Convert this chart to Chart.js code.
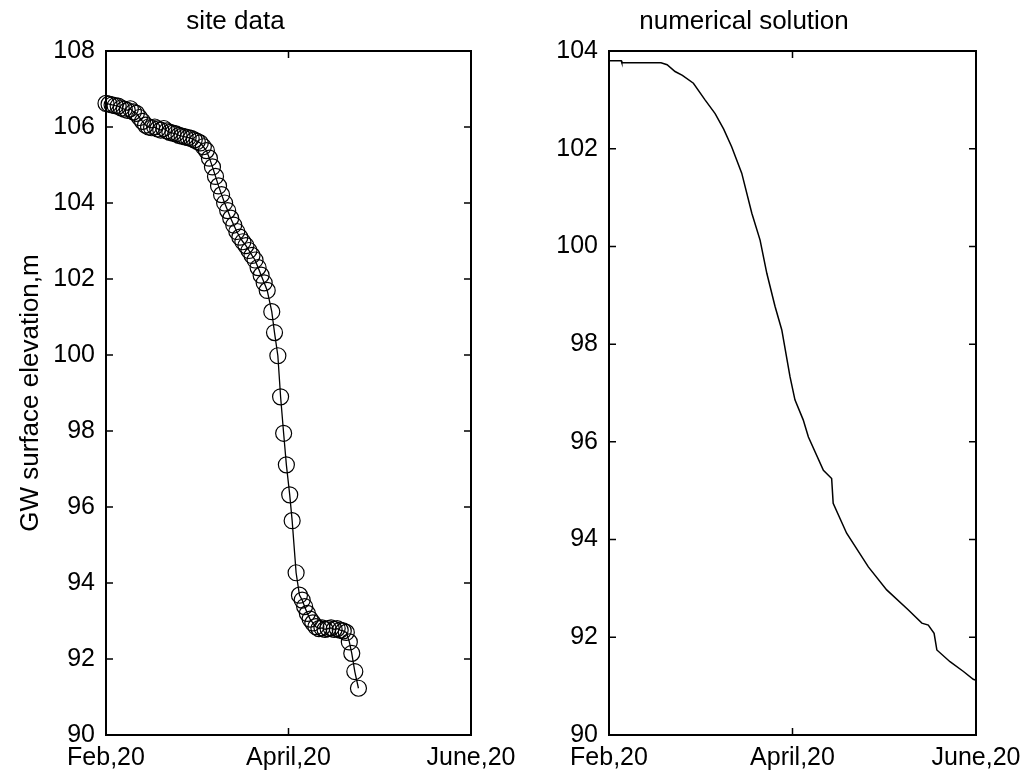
<!DOCTYPE html>
<html>
<head>
<meta charset="utf-8">
<script src="https://cdn.jsdelivr.net/npm/chart.js@4"></script>
<style>
  body { margin: 0; background: #fff; }
  #wrap { position: relative; width: 1025px; height: 774px; background: #fff; }
  #siteBox { position: absolute; left: 0; top: 0; width: 545px; height: 774px; z-index: 2; }
  #modelBox { position: absolute; left: 512px; top: 0; width: 513px; height: 774px; z-index: 1; }
</style>
</head>
<body>
<div id="wrap">
  <div id="siteBox"><canvas id="siteChart"></canvas></div>
  <div id="modelBox"><canvas id="modelChart"></canvas></div>
</div>
<script>
// x = days after Feb 20
const xTickValues = [0, 60, 120];
const xTickLabels = ["Feb,20", "April,20", "June,20"];

// site data (measured)
const siteDays = [
    0, 1, 2, 3, 4, 5, 6, 7, 8, 9, 10, 11, 12, 13, 14, 15, 16, 17, 18, 19,
    20, 21, 22, 23, 24, 25, 26, 27, 28, 29, 30, 31, 32, 33, 34, 35, 36, 37, 38, 39,
    40, 41, 42, 43, 44, 45, 46, 47, 48, 49, 50, 51, 52, 53,
    54.5, 55.4, 56.5, 57.4, 58.4, 59.3, 60.4, 61.2, 62.5, 63.6,
    64.5, 65.3, 66.2, 67.1, 68, 69, 70, 71, 72, 73, 74, 75, 76, 77, 78, 79,
    80, 80.8, 81.8, 83
];
const siteLevels = [
    106.62, 106.60, 106.58, 106.56, 106.55, 106.50, 106.47, 106.44, 106.48, 106.40,
    106.36, 106.25, 106.15, 106.05, 106.00, 105.98, 106.00, 105.95, 105.92, 105.96,
    105.90, 105.86, 105.84, 105.82, 105.78, 105.76, 105.74, 105.72, 105.70, 105.66,
    105.62, 105.58, 105.48, 105.38, 105.18, 104.95, 104.70, 104.45, 104.22, 104.00,
    103.80, 103.60, 103.42, 103.25, 103.10, 102.98, 102.88, 102.75, 102.62, 102.50,
    102.30, 102.10, 101.90, 101.70,
    101.14, 100.59, 99.98, 98.90, 97.94, 97.11, 96.32, 95.64, 94.27, 93.68,
    93.55, 93.38, 93.20, 93.05, 92.95, 92.85, 92.80, 92.82, 92.78, 92.80,
    92.82, 92.78, 92.80, 92.76, 92.74, 92.70,
    92.45, 92.15, 91.67, 91.23
];

// numerical solution
const modelDays = [
    0, 4, 4.2, 17, 19, 21.6, 24, 27.6, 31.4, 34.7, 37.5, 40.1, 43.4, 46.7, 49.4,
    51.6, 54.3, 56.5, 59.2, 60.8, 63.5, 65.2, 70.1, 72.8, 73.3, 77.7, 84.8, 90.8,
    97.9, 102.3, 104.4, 106.3, 107.2, 111.5, 115.9, 119.1, 120
];
const modelLevels = [
    103.80, 103.80, 103.76, 103.76, 103.72, 103.58, 103.50, 103.34, 103.00, 102.72,
    102.40, 102.04, 101.50, 100.68, 100.13, 99.45, 98.77, 98.29, 97.33, 96.86,
    96.45, 96.10, 95.42, 95.25, 94.74, 94.13, 93.44, 92.97, 92.56, 92.29,
    92.25, 92.08, 91.74, 91.50, 91.30, 91.14, 91.12
];

const TICK_LEN = 7;

Chart.defaults.font.family = "'Liberation Sans', Arial, sans-serif";
Chart.defaults.font.size = 25;
Chart.defaults.color = "#000";

// matlab style box with inward ticks on all four sides
const boxTicks = {
    id: "boxTicks",
    afterDraw(chart) {
        const { ctx, chartArea: a, scales } = chart;
        ctx.save();
        ctx.strokeStyle = "#000";
        ctx.lineWidth = 2;
        ctx.strokeRect(a.left, a.top, a.right - a.left, a.bottom - a.top);
        ctx.lineWidth = 1.5;
        ctx.beginPath();
        scales.x.ticks.forEach(t => {
            const px = scales.x.getPixelForValue(t.value);
            ctx.moveTo(px, a.bottom); ctx.lineTo(px, a.bottom - TICK_LEN);
            ctx.moveTo(px, a.top); ctx.lineTo(px, a.top + TICK_LEN);
        });
        scales.y.ticks.forEach(t => {
            const py = scales.y.getPixelForValue(t.value);
            ctx.moveTo(a.left, py); ctx.lineTo(a.left + TICK_LEN, py);
            ctx.moveTo(a.right, py); ctx.lineTo(a.right - TICK_LEN, py);
        });
        ctx.stroke();
        ctx.restore();
    }
};

function noPad(s) {
    s.paddingLeft = 0; s.paddingRight = 0;
    s.paddingTop = 0; s.paddingBottom = 0;
}

function xScale() {
    return {
        type: "linear",
        min: 0,
        max: 120,
        grid: { display: false, drawTicks: false },
        border: { display: false },
        afterBuildTicks: s => { s.ticks = xTickValues.map(v => ({ value: v })); },
        afterFit: s => { s.height = 39; noPad(s); },
        ticks: {
            padding: 8,
            maxRotation: 0,
            callback: v => xTickLabels[xTickValues.indexOf(v)]
        }
    };
}

function yScale(max, width, label) {
    return {
        min: 90,
        max: max,
        grid: { display: false, drawTicks: false },
        border: { display: false },
        afterFit: s => { s.width = width; noPad(s); },
        ticks: { stepSize: 2, padding: 11 },
        title: {
            display: !!label,
            text: label,
            font: { size: 26 },
            padding: { top: 15, bottom: 0 }
        }
    };
}

function titleOpts(text) {
    return {
        display: true,
        text: text,
        font: { size: 26, weight: "normal" },
        color: "#000",
        padding: { top: 6.4, bottom: 13.4 }
    };
}

new Chart(document.getElementById("siteChart"), {
    type: "line",
    data: {
        datasets: [{
            data: siteDays.map((d, i) => ({ x: d, y: siteLevels[i] })),
            borderColor: "#000",
            borderWidth: 1.3,
            pointRadius: 8,
            pointBorderWidth: 1.2,
            pointBorderColor: "#000",
            pointBackgroundColor: "rgba(0,0,0,0)",
            tension: 0,
            clip: false
        }]
    },
    options: {
        responsive: true,
        maintainAspectRatio: false,
        animation: false,
        devicePixelRatio: 1,
        layout: { autoPadding: false, padding: { left: 0, right: 74, top: 0, bottom: 0 } },
        plugins: { legend: { display: false }, tooltip: { enabled: false }, title: titleOpts("site data") },
        scales: {
            x: xScale(),
            y: yScale(108, 106, "GW surface elevation,m")
        }
    },
    plugins: [boxTicks]
});

new Chart(document.getElementById("modelChart"), {
    type: "line",
    data: {
        datasets: [{
            data: modelDays.map((d, i) => ({ x: d, y: modelLevels[i] })),
            borderColor: "#000",
            borderWidth: 1.5,
            pointRadius: 0,
            tension: 0
        }]
    },
    options: {
        responsive: true,
        maintainAspectRatio: false,
        animation: false,
        devicePixelRatio: 1,
        layout: { autoPadding: false, padding: { left: 0, right: 49, top: 0, bottom: 0 } },
        plugins: { legend: { display: false }, tooltip: { enabled: false }, title: titleOpts("numerical solution") },
        scales: {
            x: xScale(),
            y: yScale(104, 97, "")
        }
    },
    plugins: [boxTicks]
});
</script>
</body>
</html>
